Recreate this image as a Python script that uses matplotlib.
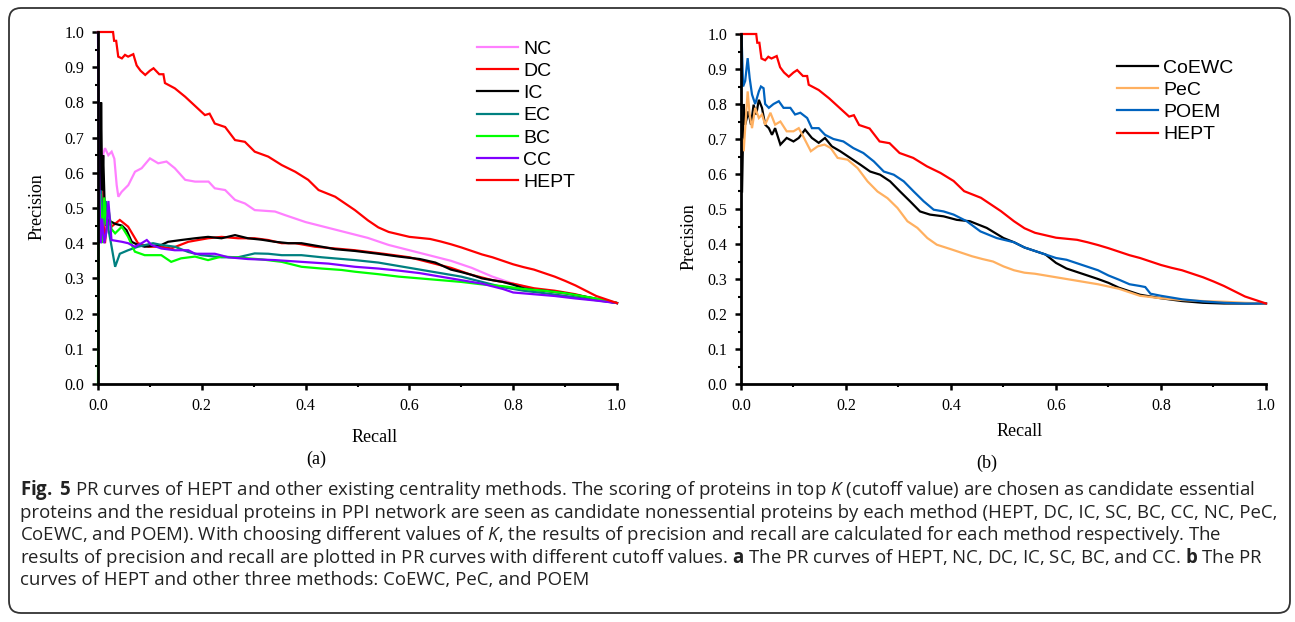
import matplotlib
matplotlib.use("Agg")
import matplotlib.pyplot as plt
from matplotlib.patches import FancyBboxPatch
from matplotlib.ticker import MultipleLocator, FormatStrFormatter

# ---------------- data ----------------
hept_r = [0, 0.029, 0.031, 0.035, 0.039, 0.046, 0.052, 0.058, 0.068, 0.0745, 0.082, 0.091, 0.10,
          0.107, 0.118, 0.126, 0.129, 0.148, 0.168, 0.187, 0.206, 0.215, 0.225, 0.245, 0.264, 0.283,
          0.302, 0.328, 0.354, 0.380, 0.405, 0.425, 0.457, 0.495, 0.52, 0.54, 0.56, 0.58, 0.60, 0.62,
          0.64, 0.66, 0.68, 0.70, 0.72, 0.74, 0.76, 0.78, 0.80, 0.82, 0.84, 0.86, 0.88, 0.90, 0.92,
          0.94, 0.96, 0.98, 1.0]
hept_p = [1.0, 1.0, 0.975, 0.975, 0.93, 0.925, 0.935, 0.93, 0.937, 0.905, 0.89, 0.878, 0.89,
          0.897, 0.88, 0.88, 0.855, 0.84, 0.816, 0.79, 0.764, 0.768, 0.74, 0.73, 0.693, 0.688,
          0.66, 0.646, 0.622, 0.603, 0.58, 0.551, 0.532, 0.494, 0.465, 0.445, 0.432, 0.425, 0.418, 0.415,
          0.412, 0.405, 0.397, 0.388, 0.378, 0.368, 0.36, 0.35, 0.34, 0.332, 0.325, 0.315, 0.305, 0.293, 0.28,
          0.265, 0.25, 0.24, 0.23]

nc_r = [0.008, 0.0103, 0.0135, 0.0199, 0.0263, 0.0315, 0.036, 0.0392, 0.0456, 0.0584, 0.0713, 0.0841,
        0.1001, 0.116, 0.132, 0.148, 0.168, 0.187, 0.213, 0.225, 0.245, 0.264, 0.283, 0.302, 0.341,
        0.36, 0.38, 0.40, 0.44, 0.48, 0.52, 0.56, 0.60, 0.64, 0.68, 0.72, 0.76, 0.80, 0.84, 0.88, 0.92,
        0.96, 1.0]
nc_p = [0.60, 0.655, 0.67, 0.65, 0.66, 0.64, 0.565, 0.532, 0.546, 0.565, 0.603, 0.613,
        0.641, 0.627, 0.632, 0.613, 0.58, 0.575, 0.575, 0.556, 0.551, 0.523, 0.513, 0.494, 0.49,
        0.48, 0.47, 0.46, 0.445, 0.43, 0.415, 0.395, 0.38, 0.365, 0.35, 0.33, 0.305, 0.285, 0.27, 0.26, 0.25,
        0.24, 0.23]

dc_r = [0.005, 0.008, 0.011, 0.0135, 0.018, 0.026, 0.042, 0.058, 0.077, 0.097, 0.122, 0.141, 0.174,
        0.212, 0.238, 0.27, 0.302, 0.328, 0.354, 0.38, 0.418, 0.457, 0.495, 0.55, 0.60, 0.64, 0.68,
        0.72, 0.76, 0.80, 0.84, 0.88, 0.92, 0.96, 1.0]
dc_p = [0.50, 0.62, 0.45, 0.40, 0.47, 0.447, 0.466, 0.447, 0.40, 0.39, 0.39, 0.385, 0.404,
        0.414, 0.418, 0.414, 0.414, 0.409, 0.40, 0.40, 0.39, 0.385, 0.38, 0.37, 0.36, 0.345, 0.33,
        0.31, 0.295, 0.285, 0.272, 0.265, 0.255, 0.24, 0.23]

ic_r = [0.004, 0.006, 0.008, 0.010, 0.013, 0.016, 0.019, 0.033, 0.046, 0.055, 0.065, 0.077, 0.09,
        0.122, 0.135, 0.16, 0.187, 0.212, 0.238, 0.264, 0.289, 0.315, 0.341, 0.367, 0.392, 0.431,
        0.457, 0.495, 0.54, 0.58, 0.62, 0.65, 0.68, 0.70, 0.72, 0.74, 0.76, 0.78, 0.80, 0.82, 0.84,
        0.86, 0.90, 0.95, 1.0]
ic_p = [0.45, 0.80, 0.55, 0.65, 0.50, 0.45, 0.466, 0.455, 0.45, 0.437, 0.404, 0.395, 0.39,
        0.395, 0.404, 0.409, 0.414, 0.418, 0.414, 0.423, 0.414, 0.41, 0.404, 0.40, 0.40, 0.39,
        0.383, 0.378, 0.37, 0.362, 0.355, 0.345, 0.325, 0.318, 0.31, 0.30, 0.295, 0.29, 0.282, 0.272, 0.267,
        0.265, 0.258, 0.245, 0.23]

ec_r = [0.003, 0.006, 0.010, 0.015, 0.020, 0.025, 0.033, 0.042, 0.058, 0.077, 0.106, 0.122, 0.148,
        0.174, 0.199, 0.238, 0.27, 0.302, 0.328, 0.354, 0.392, 0.431, 0.495, 0.54, 0.58, 0.62, 0.66,
        0.70, 0.74, 0.78, 0.82, 0.86, 0.90, 0.95, 1.0]
ec_p = [0.50, 0.55, 0.45, 0.52, 0.44, 0.40, 0.333, 0.37, 0.38, 0.39, 0.40, 0.395, 0.39,
        0.375, 0.366, 0.36, 0.36, 0.371, 0.37, 0.366, 0.366, 0.36, 0.352, 0.345, 0.335, 0.325, 0.315,
        0.305, 0.29, 0.275, 0.265, 0.258, 0.25, 0.24, 0.23]

bc_r = [0.0, 0.001, 0.004, 0.008, 0.012, 0.016, 0.020, 0.026, 0.033, 0.046, 0.058, 0.071, 0.09,
        0.122, 0.141, 0.16, 0.187, 0.212, 0.238, 0.264, 0.289, 0.315, 0.354, 0.392, 0.431, 0.469,
        0.495, 0.54, 0.58, 0.62, 0.66, 0.70, 0.74, 0.78, 0.82, 0.86, 0.90, 0.94, 0.97, 1.0]
bc_p = [0.0, 0.50, 0.54, 0.40, 0.53, 0.45, 0.50, 0.44, 0.428, 0.447, 0.418, 0.376, 0.366,
        0.366, 0.347, 0.357, 0.362, 0.352, 0.362, 0.36, 0.357, 0.354, 0.347, 0.333, 0.328, 0.324,
        0.319, 0.312, 0.305, 0.30, 0.295, 0.29, 0.283, 0.278, 0.27, 0.265, 0.258, 0.248, 0.24, 0.23]

cc_r = [0.0, 0.002, 0.005, 0.008, 0.012, 0.016, 0.020, 0.026, 0.046, 0.058, 0.071, 0.084, 0.094,
        0.103, 0.122, 0.148, 0.174, 0.187, 0.225, 0.251, 0.289, 0.341, 0.392, 0.444, 0.495, 0.54,
        0.58, 0.62, 0.66, 0.70, 0.74, 0.78, 0.80, 0.84, 0.88, 0.92, 0.96, 1.0]
cc_p = [1.0, 0.60, 0.40, 0.47, 0.40, 0.43, 0.52, 0.409, 0.404, 0.40, 0.39, 0.40, 0.409,
        0.395, 0.385, 0.38, 0.38, 0.37, 0.37, 0.36, 0.355, 0.352, 0.347, 0.342, 0.333, 0.328,
        0.322, 0.315, 0.305, 0.295, 0.285, 0.27, 0.26, 0.255, 0.25, 0.243, 0.237, 0.23]

coewc_r = [0.002, 0.005, 0.008, 0.014, 0.019, 0.024, 0.029, 0.034, 0.04, 0.046, 0.053, 0.059, 0.065,
           0.075, 0.087, 0.10, 0.11, 0.122, 0.135, 0.148, 0.16, 0.173, 0.189, 0.208, 0.227, 0.246,
           0.265, 0.284, 0.303, 0.322, 0.341, 0.36, 0.386, 0.411, 0.436, 0.468, 0.50, 0.52, 0.54, 0.56,
           0.58, 0.60, 0.62, 0.64, 0.66, 0.68, 0.70, 0.72, 0.74, 0.76, 0.78, 0.80, 0.84, 0.88, 0.92,
           0.96, 1.0]
coewc_p = [0.55, 0.80, 0.741, 0.779, 0.741, 0.798, 0.77, 0.812, 0.789, 0.741, 0.731, 0.712, 0.731,
           0.684, 0.703, 0.693, 0.703, 0.727, 0.703, 0.689, 0.703, 0.679, 0.665, 0.646, 0.627, 0.607,
           0.598, 0.579, 0.55, 0.522, 0.493, 0.484, 0.479, 0.469, 0.465, 0.446, 0.417, 0.405, 0.39, 0.38,
           0.37, 0.346, 0.33, 0.32, 0.31, 0.30, 0.289, 0.275, 0.265, 0.255, 0.25, 0.245, 0.237, 0.232, 0.23,
           0.23, 0.23]

pec_r = [0.002, 0.0051, 0.008, 0.0127, 0.0165, 0.021, 0.027, 0.034, 0.04, 0.046, 0.056, 0.065, 0.075,
         0.087, 0.10, 0.11, 0.12, 0.133, 0.146, 0.159, 0.171, 0.184, 0.203, 0.222, 0.241, 0.26, 0.279,
         0.298, 0.317, 0.336, 0.355, 0.373, 0.40, 0.42, 0.44, 0.46, 0.48, 0.50, 0.52, 0.54, 0.56, 0.58,
         0.60, 0.64, 0.68, 0.72, 0.74, 0.76, 0.80, 0.84, 0.88, 0.92, 0.96, 1.0]
pec_p = [0.70, 0.665, 0.731, 0.836, 0.77, 0.731, 0.789, 0.76, 0.77, 0.741, 0.775, 0.741, 0.75,
         0.722, 0.722, 0.731, 0.703, 0.665, 0.679, 0.684, 0.674, 0.646, 0.641, 0.617, 0.579, 0.55, 0.531,
         0.503, 0.465, 0.446, 0.417, 0.398, 0.385, 0.375, 0.365, 0.357, 0.35, 0.336, 0.325, 0.318, 0.315, 0.31,
         0.305, 0.295, 0.285, 0.272, 0.262, 0.252, 0.245, 0.24, 0.237, 0.235, 0.232, 0.23]

poem_r = [0.001, 0.004, 0.008, 0.0127, 0.0165, 0.021, 0.027, 0.034, 0.038, 0.043, 0.046, 0.053, 0.062,
          0.072, 0.081, 0.094, 0.103, 0.113, 0.126, 0.135, 0.148, 0.16, 0.176, 0.195, 0.214, 0.233,
          0.253, 0.272, 0.291, 0.31, 0.329, 0.348, 0.367, 0.386, 0.405, 0.43, 0.456, 0.487, 0.52, 0.54,
          0.56, 0.58, 0.60, 0.62, 0.64, 0.66, 0.68, 0.70, 0.72, 0.74, 0.76, 0.77, 0.78, 0.80, 0.84, 0.88,
          0.92, 0.96, 1.0]
poem_p = [1.0, 0.85, 0.866, 0.931, 0.874, 0.827, 0.80, 0.836, 0.85, 0.845, 0.80, 0.789, 0.80,
          0.808, 0.789, 0.789, 0.77, 0.775, 0.76, 0.731, 0.731, 0.712, 0.70, 0.693, 0.674, 0.66,
          0.636, 0.607, 0.598, 0.579, 0.55, 0.522, 0.498, 0.493, 0.484, 0.465, 0.436, 0.417, 0.405, 0.39,
          0.38, 0.37, 0.36, 0.355, 0.345, 0.335, 0.325, 0.31, 0.298, 0.285, 0.28, 0.277, 0.258, 0.252, 0.242,
          0.236, 0.232, 0.23, 0.23]

left_series = [("NC", nc_r, nc_p, "#FF80FF"),
               ("DC", dc_r, dc_p, "#FF0000"),
               ("IC", ic_r, ic_p, "#000000"),
               ("EC", ec_r, ec_p, "#008080"),
               ("BC", bc_r, bc_p, "#00FF00"),
               ("CC", cc_r, cc_p, "#8000FF"),
               ("HEPT", hept_r, hept_p, "#FF0000")]
right_series = [("CoEWC", coewc_r, coewc_p, "#000000"),
                ("PeC", pec_r, pec_p, "#FFB060"),
                ("POEM", poem_r, poem_p, "#0063BF"),
                ("HEPT", hept_r, hept_p, "#FF0000")]

caption_lines = [
    r"$\mathbf{Fig.}$ $\mathbf{5}$ PR curves of HEPT and other existing centrality methods. The scoring of proteins in top $\mathit{K}$ (cutoff value) are chosen as candidate essential",
    "proteins and the residual proteins in PPI network are seen as candidate nonessential proteins by each method (HEPT, DC, IC, SC, BC, CC, NC, PeC,",
    r"CoEWC, and POEM). With choosing different values of $\mathit{K}$, the results of precision and recall are calculated for each method respectively. The",
    r"results of precision and recall are plotted in PR curves with different cutoff values. $\mathbf{a}$ The PR curves of HEPT, NC, DC, IC, SC, BC, and CC. $\mathbf{b}$ The PR",
    "curves of HEPT and other three methods: CoEWC, PeC, and POEM",
]

# ---------------- figure ----------------
plt.rcParams['mathtext.fontset'] = 'custom'
plt.rcParams['mathtext.rm'] = 'Open Sans'
plt.rcParams['mathtext.bf'] = 'Open Sans:bold'
plt.rcParams['mathtext.it'] = 'Open Sans:italic'

W, H = 1295, 622
fig = plt.figure(figsize=(W / 100, H / 100), dpi=100)

def px_axes(x0, x1, ytop, ybot):
    return fig.add_axes([x0 / W, 1 - ybot / H, (x1 - x0) / W, (ybot - ytop) / H])

serif = "Liberation Serif"
sans = "Liberation Sans"

def style_axes(ax):
    ax.set_xlim(0, 1)
    ax.set_ylim(0, 1)
    for s in ("top", "right"):
        ax.spines[s].set_visible(False)
    for s in ("left", "bottom"):
        ax.spines[s].set_linewidth(2.0)
    ax.xaxis.set_major_locator(MultipleLocator(0.2))
    ax.xaxis.set_minor_locator(MultipleLocator(0.1))
    ax.yaxis.set_major_locator(MultipleLocator(0.1))
    ax.yaxis.set_minor_locator(MultipleLocator(0.05))
    ax.xaxis.set_major_formatter(FormatStrFormatter("%.1f"))
    ax.yaxis.set_major_formatter(FormatStrFormatter("%.1f"))
    ax.tick_params(which="major", direction="out", length=4, width=1.8, pad=6)
    ax.tick_params(which="minor", direction="out", length=2.5, width=1.5)
    for lab in ax.get_xticklabels() + ax.get_yticklabels():
        lab.set_fontfamily(serif)
        lab.set_fontsize(11.5)

axL = px_axes(98, 617, 32, 384)
axR = px_axes(741, 1266, 34, 384)

for ax, series in ((axL, left_series), (axR, right_series)):
    for name, r, p, c in series:
        ax.plot(r, p, color=c, lw=1.6, label=name, clip_on=False, solid_joinstyle="miter")
    style_axes(ax)

# axis labels
fig.text(37 / W, 1 - 207 / H, "Precision", rotation=90, fontfamily=serif, fontsize=13,
         ha="center", va="center")
fig.text(375 / W, 1 - 437 / H, "Recall", fontfamily=serif, fontsize=13, ha="center", va="center")
fig.text(316 / W, 1 - 459 / H, "(a)", fontfamily=serif, fontsize=13, ha="center", va="center")
fig.text(689 / W, 1 - 237 / H, "Precision", rotation=90, fontfamily=serif, fontsize=13,
         ha="center", va="center")
fig.text(1020 / W, 1 - 432 / H, "Recall", fontfamily=serif, fontsize=13, ha="center", va="center")
fig.text(987 / W, 1 - 463 / H, "(b)", fontfamily=serif, fontsize=13, ha="center", va="center")

# legends
legkw = dict(frameon=False, prop={"family": sans, "size": 14}, handlelength=2.1,
             handletextpad=0.28, labelspacing=0.24, borderpad=0, borderaxespad=0)
axL.legend(loc="upper left", bbox_to_anchor=(477 / W, 1 - 40 / H),
           bbox_transform=fig.transFigure, **legkw)
axR.legend(loc="upper left", bbox_to_anchor=(1117 / W, 1 - 59 / H),
           bbox_transform=fig.transFigure, **legkw)

# caption
for i, line in enumerate(caption_lines):
    fig.text(20 / W, 1 - (490 + 22.6 * i) / H, line, fontfamily="Open Sans", fontsize=13.45,
             ha="left", va="center", color="#222222")

# rounded frame
frame = FancyBboxPatch((0.09, 0.09), 12.81, 6.05, boxstyle="round,pad=0,rounding_size=0.12",
                       transform=fig.dpi_scale_trans, fill=False, edgecolor="#333333", lw=1.3)
fig.patches.append(frame)

fig.savefig("out.png", dpi=100)
